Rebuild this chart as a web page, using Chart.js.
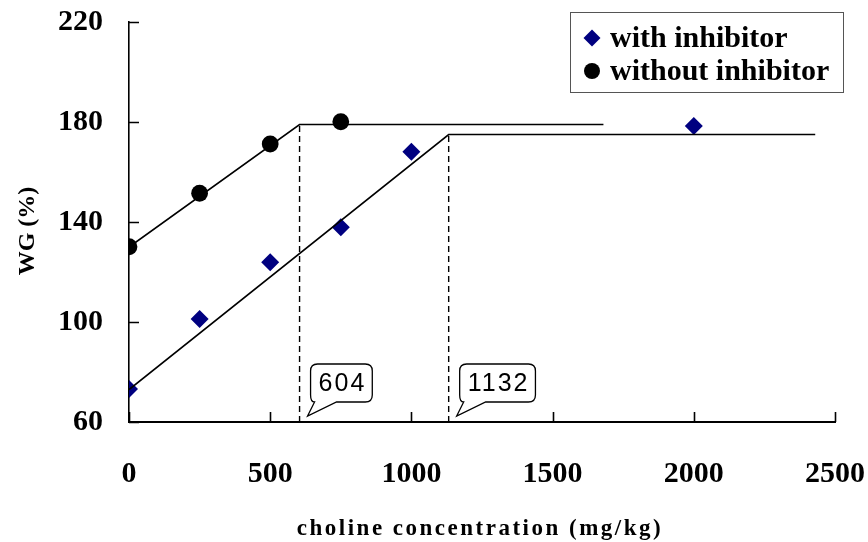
<!DOCTYPE html>
<html>
<head>
<meta charset="utf-8">
<script src="https://cdn.jsdelivr.net/npm/chart.js@4.4.1/dist/chart.umd.min.js"></script>
<style>
  html, body { margin: 0; padding: 0; background: #fff; }
  #wrap { width: 868px; height: 542px; position: relative; }
</style>
</head>
<body>
<div id="wrap"><canvas id="c"></canvas></div>
<script>
// Weight gain (%) against dietary choline (mg/kg)
const dosesWith = [0, 250, 500, 750, 1000, 2000];
const wgWithInhibitor = [73.2, 101.2, 123.9, 137.9, 168.1, 178.4];
const dosesWithout = [0, 250, 500, 750];
const wgWithoutInhibitor = [130.1, 151.5, 171.2, 180.1];

// Broken-line regressions: start, breakpoint, end of plateau
const fitWithoutX = [0, 604, 1680];
const fitWithoutY = [130, 179, 179];
const fitWithX = [0, 1132, 2430];
const fitWithY = [73, 175, 175];

const breakpoints = [604, 1132];
const breakpointLabels = ['604', '1132'];
const breakpointTops = [fitWithoutY[1], fitWithY[1]];

const seriesNames = ['with inhibitor', 'without inhibitor'];
const xTicks = [0, 500, 1000, 1500, 2000, 2500];
const yTicks = [60, 100, 140, 180, 220];
const xTitle = 'choline concentration (mg/kg)';
const yTitle = 'WG (%)';

const NAVY = '#000080';
const SERIF = '"Liberation Serif", "Times New Roman", serif';
const SANS = '"Liberation Sans", Arial, sans-serif';

const pts = (xs, ys) => xs.map((x, i) => ({ x, y: ys[i] }));

const datasets = [
  {
    label: seriesNames[1], type: 'scatter', order: 0,
    data: pts(dosesWithout, wgWithoutInhibitor),
    pointStyle: 'circle', pointRadius: 8.4,
    backgroundColor: '#000', borderColor: '#000', borderWidth: 0
  },
  {
    label: 'fit without', type: 'line', order: 1,
    data: pts(fitWithoutX, fitWithoutY),
    borderColor: '#000', borderWidth: 1.7, pointRadius: 0, fill: false, tension: 0
  },
  {
    label: 'fit with', type: 'line', order: 1,
    data: pts(fitWithX, fitWithY),
    borderColor: '#000', borderWidth: 1.7, pointRadius: 0, fill: false, tension: 0
  },
  {
    label: seriesNames[0], type: 'scatter', order: 2,
    data: pts(dosesWith, wgWithInhibitor),
    pointStyle: 'rectRot', pointRadius: 9,
    backgroundColor: NAVY, borderColor: NAVY, borderWidth: 0
  }
];

breakpoints.forEach((bx, i) => {
  datasets.push({
    label: 'breakpoint ' + breakpointLabels[i], type: 'line', order: 3,
    data: [{ x: bx, y: yTicks[0] }, { x: bx, y: breakpointTops[i] }],
    borderColor: '#000', borderWidth: 1.4, borderDash: [6, 4],
    pointRadius: 0, fill: false
  });
});

// Inward tick marks on both axes
const inwardTicks = {
  id: 'inwardTicks',
  afterDatasetsDraw(chart) {
    const { ctx, chartArea: a, scales: { x, y } } = chart;
    ctx.save();
    ctx.strokeStyle = '#000';
    ctx.lineWidth = 1.6;
    ctx.beginPath();
    xTicks.forEach(v => {
      const px = Math.round(x.getPixelForValue(v)) + 0.5;
      ctx.moveTo(px, a.bottom);
      ctx.lineTo(px, a.bottom - 10);
    });
    yTicks.forEach(v => {
      const py = Math.round(y.getPixelForValue(v)) + 0.5;
      ctx.moveTo(a.left, py);
      ctx.lineTo(a.left + 10, py);
    });
    ctx.stroke();
    ctx.restore();
  }
};

// Speech-bubble labels next to each breakpoint
const callouts = {
  id: 'callouts',
  afterDatasetsDraw(chart) {
    const { ctx, chartArea: a, scales: { x } } = chart;
    ctx.save();
    ctx.font = '25px ' + SANS;
    ctx.letterSpacing = '2px';
    breakpoints.forEach((bx, i) => {
      const px = x.getPixelForValue(bx);
      const text = breakpointLabels[i];
      const tw = ctx.measureText(text).width;
      const w = tw + 14, h = 38, r = 7;
      const left = px + 11, bottom = a.bottom - 20, top = bottom - h, right = left + w;
      const tipX = px + 8, tipY = a.bottom - 6;
      ctx.beginPath();
      ctx.moveTo(left + r, top);
      ctx.lineTo(right - r, top);
      ctx.quadraticCurveTo(right, top, right, top + r);
      ctx.lineTo(right, bottom - r);
      ctx.quadraticCurveTo(right, bottom, right - r, bottom);
      ctx.lineTo(left + 26, bottom);
      ctx.lineTo(tipX, tipY);
      ctx.lineTo(left + 4, bottom);
      ctx.quadraticCurveTo(left, bottom, left, bottom - r);
      ctx.lineTo(left, top + r);
      ctx.quadraticCurveTo(left, top, left + r, top);
      ctx.closePath();
      ctx.fillStyle = '#fff';
      ctx.fill();
      ctx.strokeStyle = '#000';
      ctx.lineWidth = 1.3;
      ctx.stroke();
      ctx.fillStyle = '#000';
      ctx.textAlign = 'left';
      ctx.textBaseline = 'middle';
      ctx.fillText(text, left + 8, top + h / 2 + 1);
    });
    ctx.restore();
  }
};

// Boxed legend in the upper right corner and the two axis titles
const decorations = {
  id: 'decorations',
  afterDraw(chart) {
    const { ctx, chartArea: a } = chart;
    ctx.save();
    // legend frame
    const lx = 570, ly = 12, lw = 273, lh = 80;
    ctx.fillStyle = '#fff';
    ctx.fillRect(lx, ly, lw, lh);
    ctx.strokeStyle = '#555';
    ctx.lineWidth = 1;
    ctx.strokeRect(lx + 0.5, ly + 0.5, lw, lh);
    const rows = [
      { y: 38, name: seriesNames[0], style: 'rectRot', color: NAVY },
      { y: 71, name: seriesNames[1], style: 'circle', color: '#000' }
    ];
    rows.forEach(row => {
      const mx = 592;
      ctx.fillStyle = row.color;
      ctx.beginPath();
      if (row.style === 'circle') {
        ctx.arc(mx, row.y, 8, 0, Math.PI * 2);
      } else {
        ctx.moveTo(mx - 8.5, row.y);
        ctx.lineTo(mx, row.y - 8.5);
        ctx.lineTo(mx + 8.5, row.y);
        ctx.lineTo(mx, row.y + 8.5);
        ctx.closePath();
      }
      ctx.fill();
      ctx.fillStyle = '#000';
      ctx.font = 'bold 30px ' + SERIF;
      ctx.textAlign = 'left';
      ctx.textBaseline = 'middle';
      ctx.fillText(row.name, 610, row.y + 1);
    });

    // x-axis title
    ctx.font = 'bold 23px ' + SERIF;
    ctx.letterSpacing = '2.5px';
    ctx.textAlign = 'center';
    ctx.textBaseline = 'alphabetic';
    ctx.fillText(xTitle, (a.left + a.right) / 2 - 2, 535);

    // y-axis title
    ctx.font = 'bold 24px ' + SERIF;
    ctx.letterSpacing = '0px';
    ctx.translate(34, 231);
    ctx.rotate(-Math.PI / 2);
    ctx.textAlign = 'center';
    ctx.fillText(yTitle, 0, 0);
    ctx.restore();
  }
};

const tickFont = { family: SERIF, size: 30, weight: 'bold' };
const noOverflow = s => { s.paddingTop = 0; s.paddingBottom = 0; s.paddingLeft = 0; s.paddingRight = 0; };

new Chart(document.getElementById('c'), {
  data: { datasets },
  options: {
    responsive: true,
    maintainAspectRatio: false,
    animation: false,
    events: [],
    layout: { padding: { left: 0, right: 33, top: 22, bottom: 0 } },
    plugins: { legend: { display: false }, tooltip: { enabled: false } },
    scales: {
      x: {
        type: 'linear',
        min: xTicks[0], max: xTicks[xTicks.length - 1],
        afterBuildTicks: s => { s.ticks = xTicks.map(v => ({ value: v })); },
        afterFit: s => { s.height = 120; noOverflow(s); },
        ticks: { font: tickFont, color: '#000', padding: 34, maxRotation: 0, callback: v => String(v) },
        grid: { display: true, drawOnChartArea: false, drawTicks: false },
        border: { display: true, color: '#000', width: 2 }
      },
      y: {
        type: 'linear',
        min: yTicks[0], max: yTicks[yTicks.length - 1],
        afterBuildTicks: s => { s.ticks = yTicks.map(v => ({ value: v })); },
        afterFit: s => { s.width = 129; noOverflow(s); },
        ticks: { font: tickFont, color: '#000', padding: 26, callback: v => String(v) },
        grid: { display: true, drawOnChartArea: false, drawTicks: false },
        border: { display: true, color: '#000', width: 1.6 }
      }
    }
  },
  plugins: [inwardTicks, callouts, decorations]
});
</script>
</body>
</html>
